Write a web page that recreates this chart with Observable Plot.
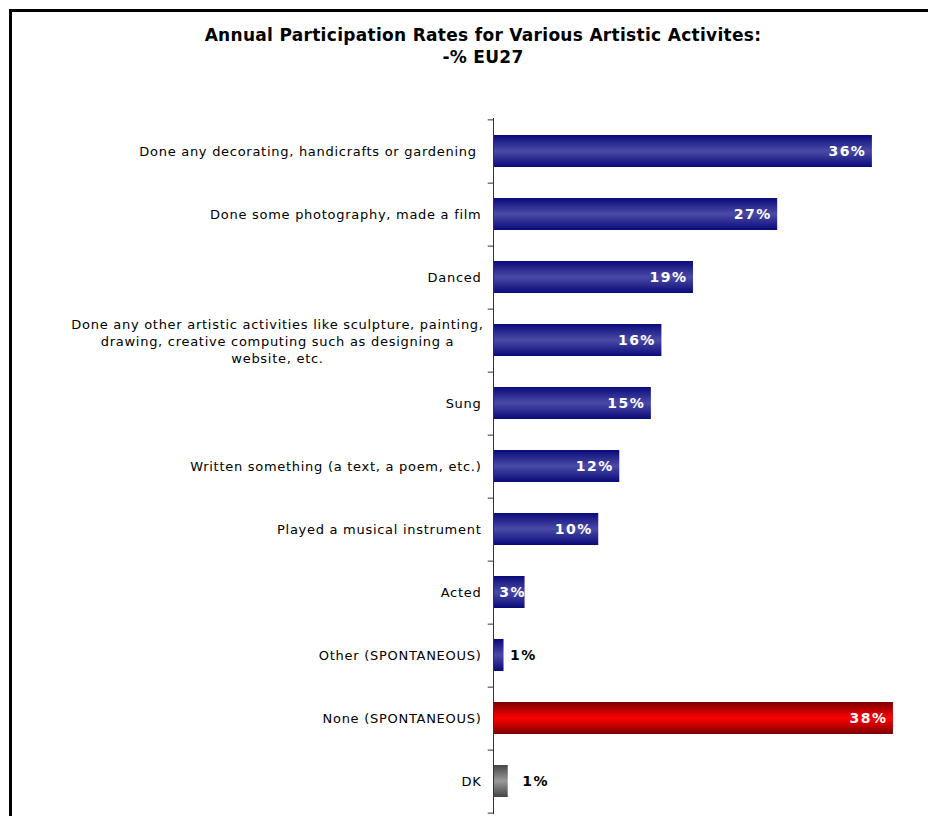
<!DOCTYPE html>
<html>
<head>
<meta charset="utf-8">
<script src="https://cdn.jsdelivr.net/npm/d3@7"></script>
<script src="https://cdn.jsdelivr.net/npm/@observablehq/plot@0.6"></script>
<style>
  html, body { margin: 0; padding: 0; background: #fff; }
  body { position: relative; width: 928px; height: 816px; overflow: hidden; font-family: "DejaVu Sans", Verdana, sans-serif; }
  #frame { position: absolute; left: 9px; top: 9px; width: 940px; height: 900px; border-left: 3px solid #000; border-top: 3px solid #000; box-sizing: border-box; pointer-events: none; }
  #title { height: 100px; box-sizing: border-box; padding-top: 24px; padding-left: 38px; text-align: center; font-weight: bold; font-size: 17px; letter-spacing: 0.3px; line-height: 22px; color: #000; }
  #chart svg { display: block; }
  .cat-label text { letter-spacing: 0.72px; }
  .val-label text { letter-spacing: 1.5px; }
</style>
</head>
<body>
<div id="frame"></div>
<div id="title">Annual Participation Rates for Various Artistic Activites:<br>-% EU27</div>
<div id="chart"></div>
<script>
const categories = [
  "Done any decorating, handicrafts or gardening ",
  "Done some photography, made a film",
  "Danced",
  "Done any other artistic activities like sculpture, painting,\ndrawing, creative computing such as designing a\nwebsite, etc.",
  "Sung",
  "Written something (a text, a poem, etc.)",
  "Played a musical instrument",
  "Acted",
  "Other (SPONTANEOUS)",
  "None (SPONTANEOUS)",
  "DK"
];
const values = [36, 27, 19, 16, 15, 12, 10, 3, 1.0, 38, 1.4];
const groups = ["blue", "blue", "blue", "blue", "blue", "blue", "blue", "blue", "blue", "red", "grey"];

const data = categories.map((c, i) => ({cat: c, value: values[i], group: groups[i]}));
const step = (816 - 100 - 18 - 2) / categories.length;

const labelFont = {fontSize: 13, fontFamily: "DejaVu Sans, Verdana, sans-serif", fill: "#000"};
const valueFont = {fontSize: 14, fontWeight: "bold", fontFamily: "DejaVu Sans, Verdana, sans-serif"};
const pct = d => Math.round(d.value) + "%";

const chart = Plot.plot({
  width: 928,
  height: 716,
  marginTop: 18,
  marginBottom: 2,
  marginLeft: 493,
  marginRight: 14,
  style: {background: "transparent", overflow: "visible"},
  x: {domain: [0, 40], axis: null},
  y: {domain: categories, paddingInner: 0.5, paddingOuter: 0.25, axis: null},
  marks: [
    Plot.barX(data.filter(d => d.group === "blue"), {y: "cat", x: "value", fill: "url(#gBlue)"}),
    Plot.barX(data.filter(d => d.group === "red"), {y: "cat", x: "value", fill: "url(#gRed)"}),
    Plot.barX(data.filter(d => d.group === "grey"), {y: "cat", x: "value", fill: "url(#gGrey)"}),
    Plot.ruleX([0], {stroke: "#333", strokeWidth: 1}),
    Plot.ruleY(categories, {y: d => d, x1: -0.5, x2: 0, dy: step / 2, stroke: "#333"}),
    Plot.ruleY(categories.slice(0, 1), {y: d => d, x1: -0.5, x2: 0, dy: -step / 2, stroke: "#333"}),
    Plot.text(data.filter(d => !d.cat.includes("\n")), {y: "cat", x: 0, text: "cat", textAnchor: "end", dx: -12, className: "cat-label", ...labelFont}),
    Plot.text(data.filter(d => d.cat.includes("\n")), {y: "cat", x: 0, text: "cat", textAnchor: "middle", dx: -216, lineHeight: 1.3, className: "cat-label", ...labelFont}),
    Plot.text(data.filter(d => d.value >= 5), {y: "cat", x: "value", text: pct, textAnchor: "end", dx: -6, fill: "#fff", className: "val-label", ...valueFont}),
    Plot.text(data.filter(d => d.value >= 3 && d.value < 5), {y: "cat", x: "value", text: pct, textAnchor: "end", dx: 1, fill: "#fff", className: "val-label", ...valueFont}),
    Plot.text(data.filter(d => d.value < 3 && d.group === "blue"), {y: "cat", x: "value", text: pct, textAnchor: "start", dx: 6, fill: "#000", className: "val-label", ...valueFont}),
    Plot.text(data.filter(d => d.value < 3 && d.group === "grey"), {y: "cat", x: "value", text: pct, textAnchor: "start", dx: 14, fill: "#000", className: "val-label", ...valueFont})
  ]
});

const svg = d3.select(chart);
const defs = svg.insert("defs", ":first-child");
function grad(id, edge, mid) {
  const g = defs.append("linearGradient").attr("id", id).attr("x1", 0).attr("y1", 0).attr("x2", 0).attr("y2", 1);
  g.append("stop").attr("offset", "0%").attr("stop-color", edge);
  g.append("stop").attr("offset", "50%").attr("stop-color", mid);
  g.append("stop").attr("offset", "100%").attr("stop-color", edge);
}
grad("gBlue", "#0a0a7a", "#4a4aa6");
grad("gRed", "#7a0000", "#ff0000");
grad("gGrey", "#444444", "#9a9a9a");

document.getElementById("chart").appendChild(chart);
</script>
</body>
</html>
